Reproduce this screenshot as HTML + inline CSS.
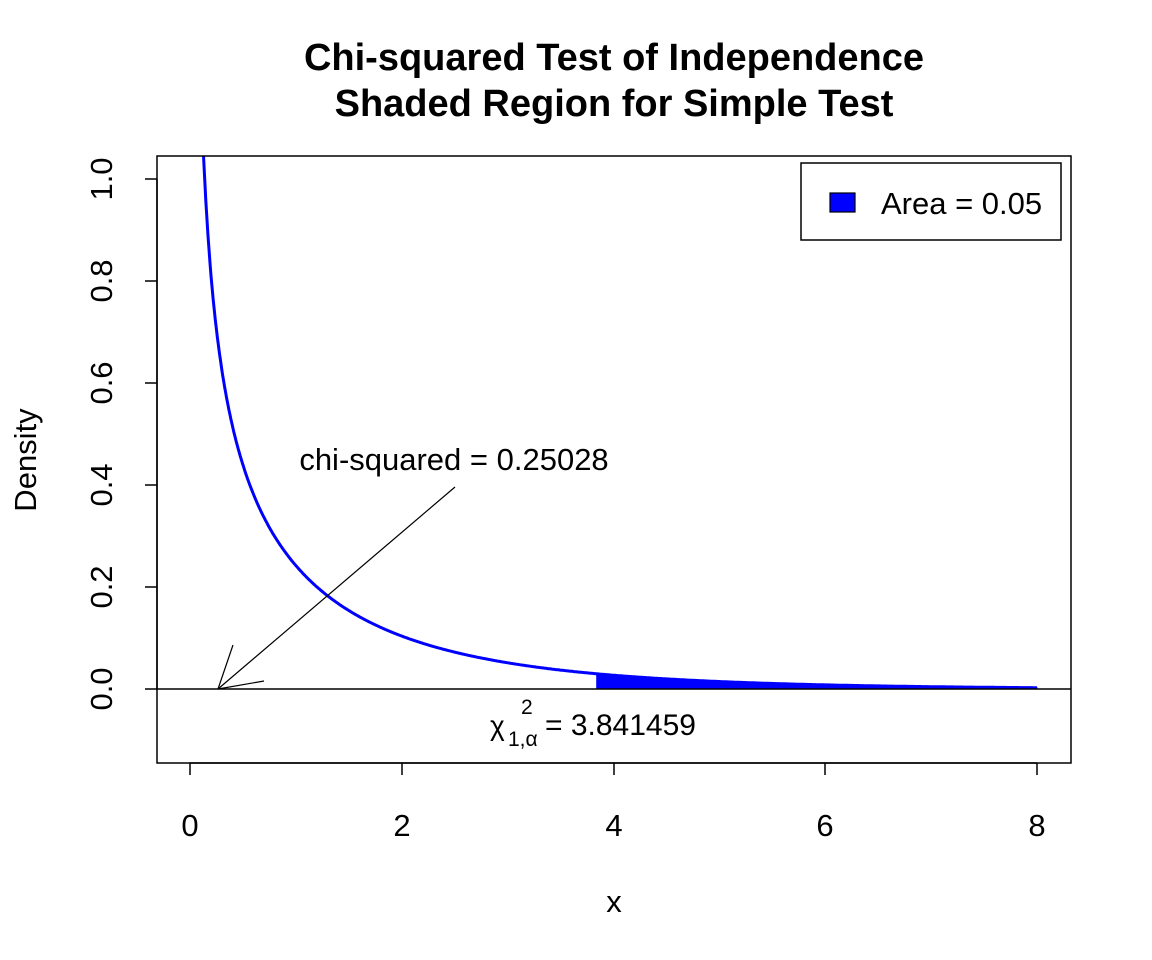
<!DOCTYPE html>
<html><head><meta charset="utf-8"><style>body{margin:0;background:#fff}svg{display:block}text{font-family:"Liberation Sans",Arial,sans-serif}</style></head>
<body>
<svg id="s" width="1152" height="960" xmlns="http://www.w3.org/2000/svg">
<rect width="1152" height="960" fill="#fff"/>
<text x="614" y="70" font-size="38" font-weight="bold" text-anchor="middle">Chi-squared Test of Independence</text>
<text x="614" y="116" font-size="38" font-weight="bold" text-anchor="middle">Shaded Region for Simple Test</text>
<defs><clipPath id="c"><rect x="157" y="156" width="914" height="607"/></clipPath></defs>
<g clip-path="url(#c)">
<path id="shade" fill="#0000ff" stroke="#0000ff" stroke-width="1"/>
<path id="curve" fill="none" stroke="#0000ff" stroke-width="3"/>
</g>
<line x1="157" y1="689" x2="1071" y2="689" stroke="#000" stroke-width="1.5"/>
<rect x="157" y="156" width="914" height="607" fill="none" stroke="#000" stroke-width="1.5"/>
<g stroke="#000" stroke-width="1.5">
<line x1="190" y1="763" x2="1037" y2="763"/>
<line x1="190" y1="763" x2="190" y2="775"/><line x1="402" y1="763" x2="402" y2="775"/><line x1="614" y1="763" x2="614" y2="775"/><line x1="825" y1="763" x2="825" y2="775"/><line x1="1037" y1="763" x2="1037" y2="775"/>
<line x1="157" y1="689" x2="157" y2="179"/>
<line x1="145" y1="689" x2="157" y2="689"/><line x1="145" y1="587" x2="157" y2="587"/><line x1="145" y1="485" x2="157" y2="485"/><line x1="145" y1="383" x2="157" y2="383"/><line x1="145" y1="281" x2="157" y2="281"/><line x1="145" y1="179" x2="157" y2="179"/>
</g>
<g font-size="31" text-anchor="middle">
<text x="190" y="836">0</text><text x="402" y="836">2</text><text x="614" y="836">4</text><text x="825" y="836">6</text><text x="1037" y="836">8</text>
<text transform="translate(112,689) rotate(-90)">0.0</text>
<text transform="translate(112,587) rotate(-90)">0.2</text>
<text transform="translate(112,485) rotate(-90)">0.4</text>
<text transform="translate(112,383) rotate(-90)">0.6</text>
<text transform="translate(112,281) rotate(-90)">0.8</text>
<text transform="translate(112,179) rotate(-90)">1.0</text>
<text x="614" y="912">x</text>
<text transform="translate(36,460) rotate(-90)">Density</text>
<text x="454" y="470">chi-squared = 0.25028</text>
</g>
<g stroke="#000" stroke-width="1.2" fill="none">
<line x1="455" y1="487" x2="218" y2="689"/>
<line x1="218" y1="689" x2="233" y2="645"/>
<line x1="218" y1="689" x2="264" y2="681"/>
</g>
<text x="490" y="735" font-size="28">χ</text>
<text x="508" y="746" font-size="21">1,α</text>
<text x="521" y="714" font-size="21">2</text>
<text x="545" y="735" font-size="30">= 3.841459</text>
<rect x="801" y="163" width="260" height="77" fill="#fff" stroke="#000" stroke-width="1.5"/>
<rect x="830" y="193" width="25" height="19" fill="#0000ff" stroke="#000" stroke-width="1.2"/>
<text x="881" y="214" font-size="31">Area = 0.05</text>
<script>
function f(x){return Math.exp(-x/2)/Math.sqrt(2*Math.PI*x);}
function px(x){return 190+x*105.875;} function py(y){return 689-y*510;}
var d="",x;
for(var i=0;i<=800;i++){x=0.1+i*(7.9/800);d+=(i?"L":"M")+px(x).toFixed(1)+","+py(f(x)).toFixed(1);}
document.getElementById("curve").setAttribute("d",d);
var a=3.841459,s="M"+px(a)+","+py(0);
for(var j=0;j<=200;j++){x=a+j*(8-a)/200;s+="L"+px(x).toFixed(1)+","+py(f(x)).toFixed(1);}
s+="L"+px(8)+","+py(0)+"Z";
document.getElementById("shade").setAttribute("d",s);
</script>
</svg>
</body></html>
